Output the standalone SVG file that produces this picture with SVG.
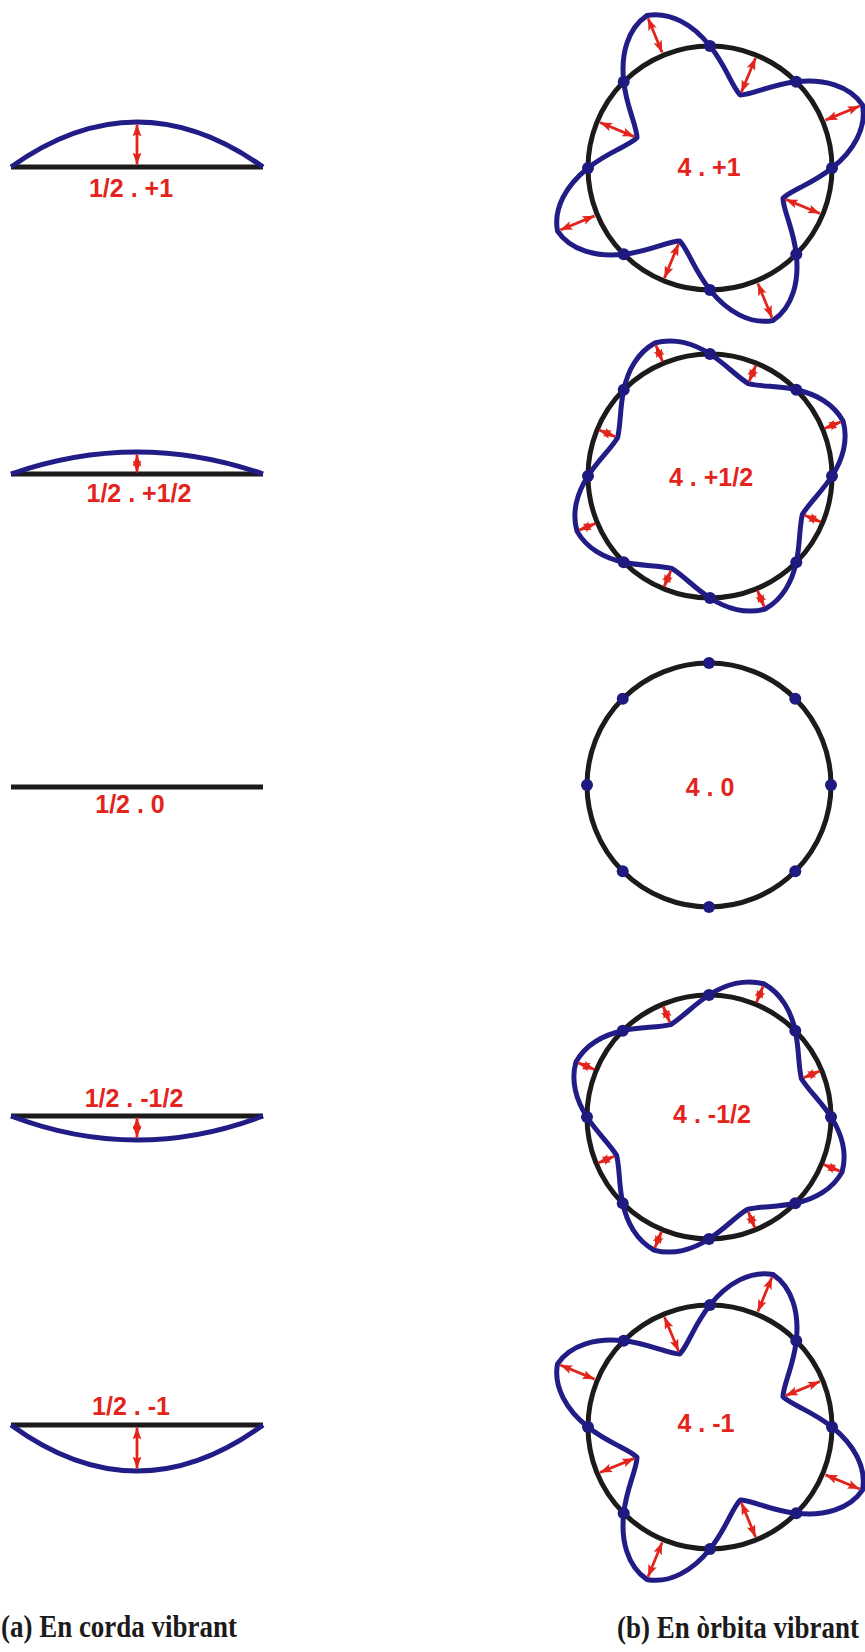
<svg xmlns="http://www.w3.org/2000/svg" xmlns:xlink="http://www.w3.org/1999/xlink" width="865" height="1652" viewBox="0 0 865 1652">
<style>
.blk{fill:none;stroke:#1c1a1a;stroke-width:5}
.blu{fill:none;stroke:#211c86;stroke-width:5;stroke-linejoin:round}
.ar{stroke:#e3241c;stroke-width:2.8;marker-start:url(#ah);marker-end:url(#ah)}
.dot{fill:#1f1a80}
.lbl{font-family:"Liberation Sans",Arial,sans-serif;font-weight:bold;font-size:25px;fill:#e3241c;text-anchor:middle}
.cap{font-family:"Liberation Serif","Times New Roman",serif;font-weight:bold;font-size:31px;fill:#1c1a1a}
</style>
<defs>
<marker id="ah" viewBox="0 0 12 9" refX="12" refY="4.5" markerWidth="12" markerHeight="9" markerUnits="userSpaceOnUse" orient="auto-start-reverse">
<path d="M0,0 L12,4.5 L0,9 L2.5,4.5 Z" fill="#e3241c"/>
</marker>
<path id="waveA" class="blu" d="M122,0 C132.03,-7.99 141.20,-18.09 146.86,-29.21 C152.52,-40.33 154.59,-52.34 152.44,-63.14 C146.32,-72.30 136.37,-79.33 124.50,-83.19 C112.64,-87.05 99.01,-87.71 86.27,-86.27 C73.53,-84.82 61.79,-81.37 52.37,-78.38 C42.95,-75.39 35.83,-73.00 30.23,-72.99 C26.28,-76.95 22.94,-83.68 18.39,-92.46 C13.85,-101.23 7.98,-111.97 0,-122 C-7.99,-132.03 -18.09,-141.20 -29.21,-146.86 C-40.33,-152.52 -52.34,-154.59 -63.14,-152.44 C-72.30,-146.32 -79.33,-136.37 -83.19,-124.50 C-87.05,-112.64 -87.71,-99.01 -86.27,-86.27 C-84.82,-73.53 -81.37,-61.79 -78.38,-52.37 C-75.39,-42.95 -73.00,-35.83 -72.99,-30.23 C-76.95,-26.28 -83.68,-22.94 -92.46,-18.39 C-101.23,-13.85 -111.97,-7.98 -122,0 C-132.03,7.99 -141.20,18.09 -146.86,29.21 C-152.52,40.33 -154.59,52.34 -152.44,63.14 C-146.32,72.30 -136.37,79.33 -124.50,83.19 C-112.64,87.05 -99.01,87.71 -86.27,86.27 C-73.53,84.82 -61.79,81.37 -52.37,78.38 C-42.95,75.39 -35.83,73.00 -30.23,72.99 C-26.28,76.95 -22.94,83.68 -18.39,92.46 C-13.85,101.23 -7.98,111.97 0,122 C7.99,132.03 18.09,141.20 29.21,146.86 C40.33,152.52 52.34,154.59 63.14,152.44 C72.30,146.32 79.33,136.37 83.19,124.50 C87.05,112.64 87.71,99.01 86.27,86.27 C84.82,73.53 81.37,61.79 78.38,52.37 C75.39,42.95 73.00,35.83 72.99,30.23 C76.95,26.28 83.68,22.94 92.46,18.39 C101.23,13.85 111.97,7.98 122,0 Z"/>
<path id="waveH" class="blu" d="M122,0 C127.13,-7.99 131.44,-17.06 133.57,-26.57 C135.71,-36.08 135.63,-45.98 133.04,-55.11 C128.42,-63.39 121.48,-70.45 113.24,-75.66 C105.01,-80.88 95.54,-84.25 86.27,-86.27 C76.99,-88.28 67.96,-89.01 59.90,-89.64 C51.84,-90.28 44.74,-90.90 38.27,-92.39 C32.64,-95.91 27.18,-100.49 21.03,-105.74 C14.88,-111.00 7.98,-116.87 0,-122 C-7.99,-127.13 -17.06,-131.44 -26.57,-133.57 C-36.08,-135.71 -45.98,-135.63 -55.11,-133.04 C-63.39,-128.42 -70.45,-121.48 -75.66,-113.24 C-80.88,-105.01 -84.25,-95.54 -86.27,-86.27 C-88.28,-76.99 -89.01,-67.96 -89.64,-59.90 C-90.28,-51.84 -90.90,-44.74 -92.39,-38.27 C-95.91,-32.64 -100.49,-27.18 -105.74,-21.03 C-111.00,-14.88 -116.87,-7.98 -122,0 C-127.13,7.99 -131.44,17.06 -133.57,26.57 C-135.71,36.08 -135.63,45.98 -133.04,55.11 C-128.42,63.39 -121.48,70.45 -113.24,75.66 C-105.01,80.88 -95.54,84.25 -86.27,86.27 C-76.99,88.28 -67.96,89.01 -59.90,89.64 C-51.84,90.28 -44.74,90.90 -38.27,92.39 C-32.64,95.91 -27.18,100.49 -21.03,105.74 C-14.88,111.00 -7.98,116.87 0,122 C7.99,127.13 17.06,131.44 26.57,133.57 C36.08,135.71 45.98,135.63 55.11,133.04 C63.39,128.42 70.45,121.48 75.66,113.24 C80.88,105.01 84.25,95.54 86.27,86.27 C88.28,76.99 89.01,67.96 89.64,59.90 C90.28,51.84 90.90,44.74 92.39,38.27 C95.91,32.64 100.49,27.18 105.74,21.03 C111.00,14.88 116.87,7.98 122,0 Z"/>
<g id="dots">
<circle class="dot" cx="122" cy="0" r="6"/>
<circle class="dot" cx="86.27" cy="-86.27" r="6"/>
<circle class="dot" cx="0" cy="-122" r="6"/>
<circle class="dot" cx="-86.27" cy="-86.27" r="6"/>
<circle class="dot" cx="-122" cy="0" r="6"/>
<circle class="dot" cx="-86.27" cy="86.27" r="6"/>
<circle class="dot" cx="0" cy="122" r="6"/>
<circle class="dot" cx="86.27" cy="86.27" r="6"/>
</g>
<g id="arrA">
<line class="ar" x1="125" y1="0" x2="162" y2="0" transform="rotate(-22.5)"/>
<line class="ar" x1="125" y1="0" x2="162" y2="0" transform="rotate(-112.5)"/>
<line class="ar" x1="125" y1="0" x2="162" y2="0" transform="rotate(-202.5)"/>
<line class="ar" x1="125" y1="0" x2="162" y2="0" transform="rotate(-292.5)"/>
<line class="ar" x1="119" y1="0" x2="82" y2="0" transform="rotate(-67.5)"/>
<line class="ar" x1="119" y1="0" x2="82" y2="0" transform="rotate(-157.5)"/>
<line class="ar" x1="119" y1="0" x2="82" y2="0" transform="rotate(-247.5)"/>
<line class="ar" x1="119" y1="0" x2="82" y2="0" transform="rotate(-337.5)"/>
</g>
<g id="arrH">
<line class="ar" x1="124" y1="0" x2="141.5" y2="0" transform="rotate(-22.5)"/>
<line class="ar" x1="124" y1="0" x2="141.5" y2="0" transform="rotate(-112.5)"/>
<line class="ar" x1="124" y1="0" x2="141.5" y2="0" transform="rotate(-202.5)"/>
<line class="ar" x1="124" y1="0" x2="141.5" y2="0" transform="rotate(-292.5)"/>
<line class="ar" x1="120" y1="0" x2="102.5" y2="0" transform="rotate(-67.5)"/>
<line class="ar" x1="120" y1="0" x2="102.5" y2="0" transform="rotate(-157.5)"/>
<line class="ar" x1="120" y1="0" x2="102.5" y2="0" transform="rotate(-247.5)"/>
<line class="ar" x1="120" y1="0" x2="102.5" y2="0" transform="rotate(-337.5)"/>
</g>
</defs>
<rect width="865" height="1652" fill="#ffffff"/>

<g id="string-p1">
<line class="blk" x1="11" y1="167" x2="263" y2="167"/>
<path class="blu" d="M11,167 Q137,77 263,167"/>
<line class="ar" x1="137" y1="164.5" x2="137" y2="124.5"/>
<text class="lbl" x="131" y="197">1/2 . +1</text>
</g>
<g id="string-p12">
<line class="blk" x1="11" y1="474" x2="263" y2="474"/>
<path class="blu" d="M11,474 Q137,430 263,474"/>
<line class="ar" x1="137" y1="472.5" x2="137" y2="454.5"/>
<text class="lbl" x="139" y="502">1/2 . +1/2</text>
</g>
<g id="string-0">
<line class="blk" x1="11" y1="787" x2="263" y2="787"/>
<text class="lbl" x="130" y="813">1/2 . 0</text>
</g>
<g id="string-m12">
<line class="blk" x1="11" y1="1116" x2="263" y2="1116"/>
<path class="blu" d="M11,1116 Q137,1164 263,1116"/>
<line class="ar" x1="137" y1="1117.5" x2="137" y2="1137.5"/>
<text class="lbl" x="134" y="1107">1/2 . -1/2</text>
</g>
<g id="string-m1">
<line class="blk" x1="11" y1="1425" x2="263" y2="1425"/>
<path class="blu" d="M11,1425 Q137,1517 263,1425"/>
<line class="ar" x1="137" y1="1427.5" x2="137" y2="1468.5"/>
<text class="lbl" x="131" y="1415">1/2 . -1</text>
</g>

<g id="orbit-p1" transform="translate(710,168)">
<circle class="blk" cx="0" cy="0" r="122"/>
<use xlink:href="#waveA"/>
<use xlink:href="#dots"/>
<use xlink:href="#arrA"/>
<text class="lbl" x="-1" y="8">4 . +1</text>
</g>
<g id="orbit-p12" transform="translate(710,476)">
<circle class="blk" cx="0" cy="0" r="122"/>
<use xlink:href="#waveH"/>
<use xlink:href="#dots"/>
<use xlink:href="#arrH"/>
<text class="lbl" x="1" y="10">4 . +1/2</text>
</g>
<g id="orbit-0" transform="translate(709,785)">
<circle class="blk" cx="0" cy="0" r="122"/>
<use xlink:href="#dots"/>
<text class="lbl" x="1" y="11">4 . 0</text>
</g>
<g id="orbit-m12" transform="translate(709,1117)">
<circle class="blk" cx="0" cy="0" r="122"/>
<use xlink:href="#waveH" transform="rotate(45)"/>
<use xlink:href="#dots"/>
<use xlink:href="#arrH" transform="rotate(45)"/>
<text class="lbl" x="3" y="6">4 . -1/2</text>
</g>
<g id="orbit-m1" transform="translate(710,1427)">
<circle class="blk" cx="0" cy="0" r="122"/>
<use xlink:href="#waveA" transform="rotate(45)"/>
<use xlink:href="#dots"/>
<use xlink:href="#arrA" transform="rotate(45)"/>
<text class="lbl" x="-4" y="5">4 . -1</text>
</g>

<g id="caption-a" transform="translate(1,1637) scale(0.87,1)">
<text class="cap" x="0" y="0">(a) En corda vibrant</text>
</g>
<g id="caption-b" transform="translate(617,1638) scale(0.87,1)">
<text class="cap" x="0" y="0">(b) En òrbita vibrant</text>
</g>
</svg>
